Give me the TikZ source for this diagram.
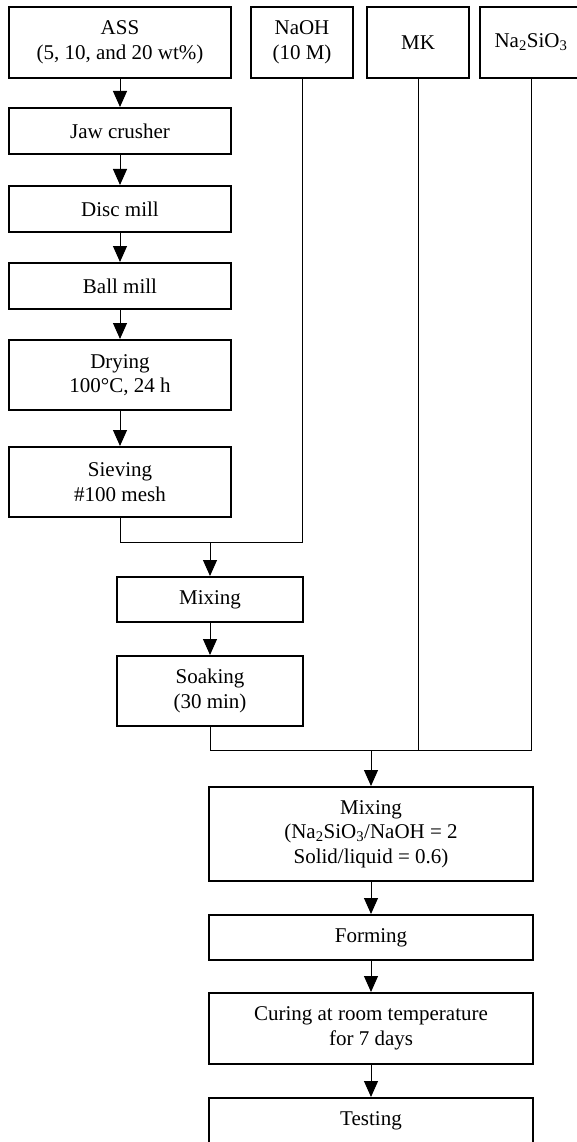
\documentclass[tikz,border=0pt]{standalone}
\usepackage{fontspec}
\setmainfont{Liberation Serif}
\usetikzlibrary{arrows.meta}

\begin{document}
\begin{tikzpicture}[x=1pt, y=-1pt,
  box/.style={draw, line width=2pt, align=center, inner sep=0pt,
    font=\fontsize{21}{24.5}\selectfont},
  flow/.style={line width=1pt, -{Triangle[width=14pt,length=16pt]}},
  feed/.style={line width=1pt}]

% page size
\useasboundingbox (0,0) rectangle (577,1142);

% raw materials
\node[box, minimum width=222pt, minimum height=71pt] (ass) at (120,42.5) {ASS\\(5, 10, and 20 wt\%)};
\node[box, minimum width=102pt, minimum height=71pt] (naoh) at (302,42.5) {NaOH\\(10 M)};
\node[box, minimum width=102pt, minimum height=71pt] (mk) at (418,42.5) {MK};
\node[box, minimum width=102pt, minimum height=71pt] (nasio) at (531,42.5) {Na\textsubscript{2}SiO\textsubscript{3}};

% preparation of ASS
\node[box, minimum width=222pt, minimum height=46pt] (jaw) at (120,131) {Jaw crusher};
\node[box, minimum width=222pt, minimum height=46pt] (disc) at (120,209) {Disc mill};
\node[box, minimum width=222pt, minimum height=46pt] (ball) at (120,286) {Ball mill};
\node[box, minimum width=222pt, minimum height=70pt] (dry) at (120,375) {Drying\\100°C, 24 h};
\node[box, minimum width=222pt, minimum height=70pt] (sieve) at (120,482) {Sieving\\\#100 mesh};

% soaking with NaOH
\node[box, minimum width=186pt, minimum height=45pt] (mixa) at (210,599.5) {Mixing};
\node[box, minimum width=186pt, minimum height=70pt] (soak) at (210,691) {Soaking\\(30 min)};

% geopolymer
\node[box, minimum width=324pt, minimum height=94pt] (mixb) at (371,834) {Mixing\\(Na\textsubscript{2}SiO\textsubscript{3}/NaOH = 2\\Solid/liquid = 0.6)};
\node[box, minimum width=324pt, minimum height=45pt] (form) at (371,937.5) {Forming};
\node[box, minimum width=324pt, minimum height=71pt] (cure) at (371,1028.5) {Curing at room temperature\\for 7 days};
\node[box, minimum width=324pt, minimum height=45pt] (test) at (371,1120.5) {Testing};

% junctions
\coordinate (ja) at (210,542);
\coordinate (jb) at (371,750);

% arrows
\draw[flow] (ass) -- (jaw);
\draw[flow] (jaw) -- (disc);
\draw[flow] (disc) -- (ball);
\draw[flow] (ball) -- (dry);
\draw[flow] (dry) -- (sieve);

\draw[feed] (sieve.south) -- (sieve.south |- ja) -- (naoh.south |- ja) -- (naoh.south);
\draw[flow] (ja) -- (mixa);
\draw[flow] (mixa) -- (soak);

\draw[feed] (soak.south) -- (soak.south |- jb) -- (nasio.south |- jb) -- (nasio.south);
\draw[feed] (mk.south) -- (mk.south |- jb);
\draw[flow] (jb) -- (mixb);

\draw[flow] (mixb) -- (form);
\draw[flow] (form) -- (cure);
\draw[flow] (cure) -- (test);
\end{tikzpicture}
\end{document}
